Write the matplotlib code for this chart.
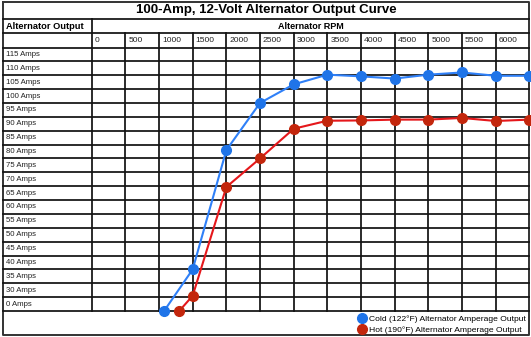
"""Recreates the 100-Amp, 12-Volt alternator output curve drawn on a table grid."""
import matplotlib
matplotlib.use("Agg")
import matplotlib.pyplot as plt
import numpy as np
from matplotlib.lines import Line2D
from matplotlib.transforms import blended_transform_factory, offset_copy

plt.rcParams["font.family"] = ["Liberation Sans", "DejaVu Sans"]

TITLE = "100-Amp, 12-Volt Alternator Output Curve"
rpm_ticks = [0, 500, 1000, 1500, 2000, 2500, 3000, 3500, 4000, 4500, 5000, 5500, 6000]
amp_rows = [115, 110, 105, 100, 95, 90, 85, 80, 75, 70, 65, 60, 55, 50, 45, 40, 35, 30, 0]

cold_rpm = [1075, 1500, 2000, 2500, 3000, 3500, 4000, 4500, 5000, 5500, 6000, 6500]
cold_amps = [0, 40, 83, 100, 106.7, 110.2, 109.6, 108.8, 110.2, 111, 109.8, 109.8]
hot_rpm = [1300, 1500, 2000, 2500, 3000, 3500, 4000, 4500, 5000, 5500, 6000, 6500]
hot_amps = [0, 30.5, 69.7, 80, 90.7, 93.6, 93.7, 94, 94, 94.6, 93.5, 94]

COLD_LINE, COLD_DOT = "#2f80f8", "#1f74e8"
HOT_LINE, HOT_DOT = "#e5171b", "#c3260c"
GRID = "#111111"
GRID_LW = 1.25

# Table layout in pixels (figure is 531 x 337)
W, H = 531, 337
BORDER_L, BORDER_R, BORDER_T, BORDER_B = 2.5, 529.3, 1.5, 334.5
TITLE_B, HEADER_B, RPM_B = 19.0, 33.3, 47.5
PLOT_L, PLOT_B = 91.7, 311.0


def ax_x(px):
    return (px - PLOT_L) / (BORDER_R - PLOT_L)


def ax_y(py):
    return (PLOT_B - py) / (PLOT_B - RPM_B)


# the "0 Amps" row squeezes 0..30 into one 5-amp row
def forward(a):
    a = np.asarray(a, dtype=float)
    return np.where(a < 30, 25 + a / 6.0, a)


def inverse(s):
    s = np.asarray(s, dtype=float)
    return np.where(s < 30, (s - 25) * 6.0, s)


fig = plt.figure(figsize=(W / 100, H / 100), dpi=100)
bg = fig.add_axes([0, 0, 1, 1])
bg.set_xlim(0, W)
bg.set_ylim(H, 0)
bg.axis("off")

ax = fig.add_axes([PLOT_L / W, (H - PLOT_B) / H, (BORDER_R - PLOT_L) / W, (PLOT_B - RPM_B) / H])
ax.patch.set_alpha(0)
for s in ax.spines.values():
    s.set_visible(False)
ax.set_yscale("function", functions=(forward, inverse))
ax.set_xlim(0, 6500)
ax.set_ylim(0, 120)
ax.set_xticks([])
ax.set_yticks([])
ax.minorticks_off()

# outer border and header rows
bg.plot([BORDER_L, BORDER_R, BORDER_R, BORDER_L, BORDER_L],
        [BORDER_T, BORDER_T, BORDER_B, BORDER_B, BORDER_T], color="#333333", lw=1.4)
for y in (TITLE_B, HEADER_B):
    bg.plot([BORDER_L, BORDER_R], [y, y], color=GRID, lw=GRID_LW)

# row and column lines
for v in [0, 30] + amp_rows[:-2][::-1] + [120]:
    ax.axhline(v, xmin=ax_x(BORDER_L), xmax=1, color=GRID, lw=GRID_LW, clip_on=False)
for r in rpm_ticks:
    top = TITLE_B if r == 0 else HEADER_B
    ax.axvline(r, ymin=0, ymax=ax_y(top), color=GRID, lw=GRID_LW, clip_on=False)

# row labels
row_tf = blended_transform_factory(ax.transAxes, ax.transData)
for v in amp_rows:
    mid = 15 if v == 0 else v + 2.5
    ax.text(ax_x(5.5), mid, f"{v} Amps", transform=row_tf, fontsize=5.6,
            va="center", ha="left", color="#222222")

# rpm labels
col_tf = offset_copy(blended_transform_factory(ax.transData, ax.transAxes), fig, x=3, units="dots")
for r in rpm_ticks:
    ax.text(r, ax_y(40.5), str(r), transform=col_tf, fontsize=6.1,
            va="center", ha="left", color="#222222")

bg.text((BORDER_L + BORDER_R) / 2, 10.5, TITLE, ha="center", va="center",
        fontsize=9.5, fontweight="bold")
bg.text(5.5, 26.2, "Alternator Output", ha="left", va="center", fontsize=6.7, fontweight="bold")
bg.text((PLOT_L + BORDER_R) / 2, 26.2, "Alternator RPM", ha="center", va="center",
        fontsize=6.5, fontweight="bold")

ax.plot(hot_rpm, hot_amps, color=HOT_LINE, lw=1.5, marker="o", ms=7,
        mfc=HOT_DOT, mec=HOT_DOT, clip_on=False, zorder=3)
ax.plot(cold_rpm, cold_amps, color=COLD_LINE, lw=1.5, marker="o", ms=7,
        mfc=COLD_DOT, mec=COLD_DOT, clip_on=False, zorder=4)

handles = [
    Line2D([], [], ls="none", marker="o", ms=7, color=COLD_DOT,
           label="Cold (122°F) Alternator Amperage Output"),
    Line2D([], [], ls="none", marker="o", ms=7, color=HOT_DOT,
           label="Hot (190°F) Alternator Amperage Output"),
]
ax.legend(handles=handles, loc="lower right", bbox_to_anchor=(526 / W, (H - 333.5) / H),
          bbox_transform=fig.transFigure, frameon=False, fontsize=6.1, handlelength=0.8,
          handletextpad=0.4, labelspacing=0.25, borderpad=0, borderaxespad=0)

fig.savefig("out.png", dpi=100)
